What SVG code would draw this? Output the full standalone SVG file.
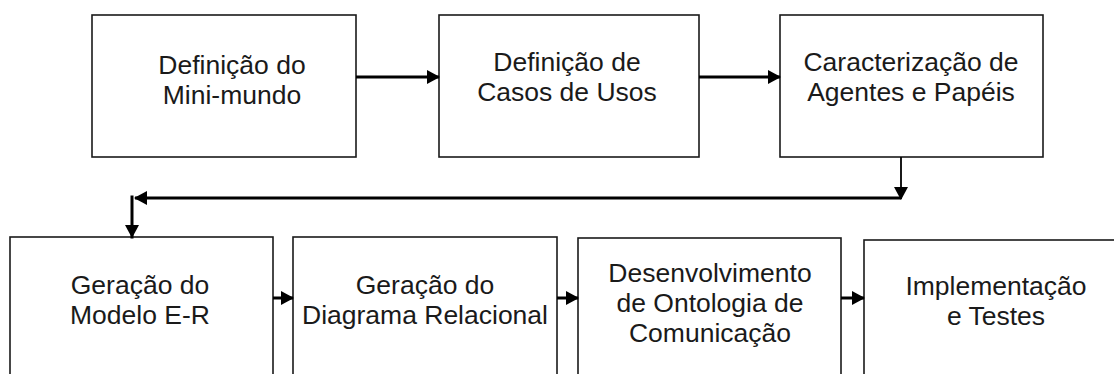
<svg xmlns="http://www.w3.org/2000/svg" width="1114" height="374" viewBox="0 0 1114 374">
<style>
.box{fill:#fff;stroke:#1a1a1a;stroke-width:1.6}
.t{font-family:"Liberation Sans",Arial,sans-serif;font-size:26.5px;fill:#1a1a1a;text-anchor:middle}
.c{fill:none;stroke:#000;stroke-width:3}
.thin{fill:none;stroke:#000;stroke-width:1.8}
</style>
<defs>
<marker id="ah" markerUnits="userSpaceOnUse" markerWidth="13" markerHeight="14" refX="12" refY="7" orient="auto" viewBox="0 0 13 14">
<path d="M0,0 L13,7 L0,14 Z" fill="#000"/>
</marker>
</defs>
<rect width="1114" height="374" fill="#fff"/>
<g id="n1"><rect class="box" x="92" y="15" width="264" height="142"/>
<text class="t" x="232" y="74">Definição do</text><text class="t" x="232" y="104">Mini-mundo</text></g>
<g id="n2"><rect class="box" x="439" y="15" width="260" height="142"/>
<text class="t" x="567" y="71">Definição de</text><text class="t" x="567" y="101">Casos de Usos</text></g>
<g id="n3"><rect class="box" x="780" y="15" width="263" height="142"/>
<text class="t" x="911" y="71">Caracterização de</text><text class="t" x="911" y="101">Agentes e Papéis</text></g>
<g id="n4"><rect class="box" x="10" y="237" width="263" height="150"/>
<text class="t" x="140" y="294">Geração do</text><text class="t" x="140" y="324">Modelo E-R</text></g>
<g id="n5"><rect class="box" x="293" y="237" width="264" height="150"/>
<text class="t" x="425" y="294">Geração do</text><text class="t" x="425" y="324">Diagrama Relacional</text></g>
<g id="n6"><rect class="box" x="578" y="238" width="263" height="150"/>
<text class="t" x="710" y="282">Desenvolvimento</text><text class="t" x="710" y="312">de Ontologia de</text><text class="t" x="710" y="342">Comunicação</text></g>
<g id="n7"><rect class="box" x="864" y="240" width="263" height="150"/>
<text class="t" x="996" y="295">Implementação</text><text class="t" x="996" y="325">e Testes</text></g>
<g id="connectors">
<path class="c" d="M356,77 H439" marker-end="url(#ah)"/>
<path class="c" d="M699,77 H780" marker-end="url(#ah)"/>
<path class="thin" d="M901,157 V199" marker-end="url(#ah)"/>
<path class="c" d="M901,198 H135" marker-end="url(#ah)"/>
<path class="c" d="M132,197 V237" stroke-linecap="square" marker-end="url(#ah)"/>
<path class="c" d="M273,298 H293" marker-end="url(#ah)"/>
<path class="c" d="M557,298 H578" marker-end="url(#ah)"/>
<path class="c" d="M841,298 H864" marker-end="url(#ah)"/>
</g>
</svg>
